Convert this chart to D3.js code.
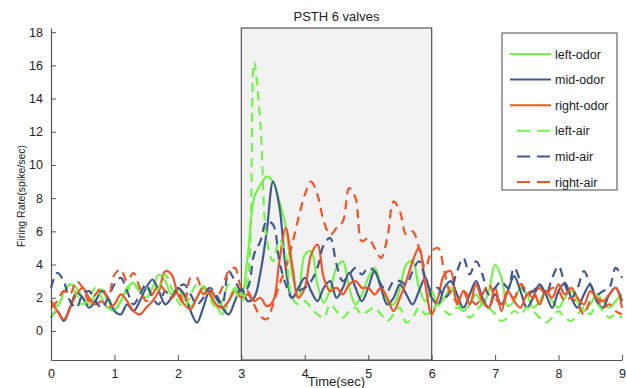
<!DOCTYPE html>
<html>
<head>
<meta charset="utf-8">
<script src="https://cdn.jsdelivr.net/npm/d3@7"></script>
<style>
  body { margin: 0; background: #fff; }
  svg { display: block; font-family: "Liberation Sans", Arial, sans-serif; }
</style>
</head>
<body>
<svg id="chart" width="626" height="388"></svg>
<script>
const title = "PSTH 6 valves";
const xLabel = "Time(sec)";
const yLabel = "Firing Rate(spike/sec)";
const xTicks = [0,1,2,3,4,5,6,7,8,9];
const yTicks = [0,2,4,6,8,10,12,14,16,18];
const stimWindow = [3, 6];
const times = d3.range(0, 91).map(i => i / 10);

const seriesNames = ["left-odor","mid-odor","right-odor","left-air","mid-air","right-air"];

const leftOdor = [1.8,1.5,2.3,2.8,2.6,2.0,1.6,2.2,2.5,1.8,1.3,1.8,2.6,2.9,2.4,2.0,2.6,3.4,3.0,2.2,2.5,2.0,1.5,2.0,2.7,2.3,1.6,1.0,1.8,2.6,2.2,
  4.5,8.0,8.8,9.3,9.0,7.8,6.3,3.5,2.0,4.6,4.8,2.8,1.7,2.5,3.8,4.2,2.6,1.6,2.2,3.2,3.8,2.8,1.8,1.6,2.6,4.0,4.2,2.6,1.8,2.4,
  1.6,2.0,2.6,1.8,1.2,1.6,2.2,1.6,2.4,4.0,3.2,1.5,1.8,2.6,2.2,1.4,1.8,2.4,1.8,1.4,2.0,2.4,1.8,1.2,1.6,2.2,1.8,1.4,1.8,2.2];

const midOdor = [0.8,1.2,0.6,1.4,2.3,2.0,1.4,1.8,2.4,2.0,1.2,1.0,1.6,1.2,1.8,2.6,3.1,2.4,1.6,2.0,2.6,2.2,1.2,0.5,1.4,2.4,2.0,1.4,1.0,1.8,2.6,
  1.8,2.0,3.5,6.0,9.0,7.5,3.8,2.0,2.6,3.2,2.4,1.8,2.6,3.0,2.0,2.6,3.5,2.6,1.8,2.6,3.6,2.6,1.6,2.0,2.8,2.2,1.6,2.4,3.2,2.0,
  1.6,2.6,3.0,2.2,1.4,2.2,3.0,2.0,1.4,2.2,1.6,2.4,3.3,2.4,1.4,2.0,2.8,2.2,1.4,2.4,2.9,2.0,1.4,2.2,2.8,1.8,1.4,2.2,2.6,1.8];

const rightOdor = [1.8,1.2,0.7,1.4,2.2,2.6,2.0,1.6,1.8,1.4,1.6,2.2,1.8,1.2,1.0,1.4,1.8,2.4,3.6,3.4,2.2,1.6,1.3,2.0,2.6,2.2,1.6,1.4,1.8,2.4,2.0,
  2.2,1.8,2.0,1.5,1.8,4.2,6.2,4.0,2.0,2.6,4.6,5.2,3.2,2.4,2.6,2.2,2.8,3.0,2.6,2.6,2.2,2.6,2.0,1.2,2.0,3.0,4.2,5.0,2.8,1.0,
  2.0,3.4,3.6,1.6,2.4,1.6,2.8,1.8,1.4,2.6,1.2,2.4,1.8,1.4,2.2,2.4,1.6,2.4,2.0,2.8,2.2,2.6,2.0,1.6,2.4,2.0,1.8,2.2,2.6,1.4];

const leftAir = [0.8,1.4,2.2,2.8,2.2,1.6,2.0,2.6,2.0,1.4,1.2,1.8,2.4,2.8,2.4,2.6,2.2,2.6,3.4,2.6,1.8,1.4,2.2,2.8,2.6,2.0,1.4,1.8,2.8,2.4,1.8,
  3.0,16.2,12.5,5.5,4.2,5.5,4.5,2.0,1.6,1.8,1.4,1.0,0.8,1.6,1.2,0.8,1.2,1.4,1.0,1.2,1.4,1.0,0.6,1.0,1.4,0.5,0.8,1.4,1.0,1.2,
  1.6,1.2,1.0,1.4,1.2,0.8,1.2,1.6,1.4,1.0,0.6,0.8,1.2,1.0,1.4,1.2,0.8,0.5,0.8,1.2,0.8,0.6,1.0,1.4,1.0,1.6,1.2,0.8,1.0,0.8];

const midAir = [2.6,3.5,3.0,1.8,1.4,2.2,2.4,1.8,1.4,2.0,2.8,3.2,2.4,1.6,2.2,2.8,2.0,1.6,2.4,2.0,2.6,2.8,2.2,1.6,2.0,2.6,2.2,1.6,3.6,3.0,2.4,
  2.6,4.6,5.4,6.6,6.4,4.2,2.8,2.0,2.4,2.6,3.0,3.8,5.2,5.6,4.0,3.0,3.4,3.8,3.4,3.8,3.6,2.8,2.4,3.0,3.0,2.8,3.6,4.2,3.2,2.4,
  2.6,2.0,2.4,3.6,4.4,3.4,4.2,3.4,2.2,2.6,3.0,2.6,3.8,3.0,2.2,2.4,2.8,2.2,3.2,3.9,2.8,2.0,2.6,3.6,2.8,2.2,2.4,2.6,3.8,3.2];

const rightAir = [1.4,1.8,2.4,2.2,3.0,2.6,1.8,2.2,2.6,2.0,3.4,3.7,3.0,3.5,2.6,1.8,2.2,2.8,2.4,2.0,2.4,1.6,3.2,3.2,2.2,2.6,2.0,2.6,3.6,3.8,2.6,
  2.4,1.6,0.9,0.7,1.6,2.8,3.8,5.2,6.8,8.2,9.0,8.2,6.6,5.8,6.2,6.6,8.6,8.0,5.4,5.6,5.0,4.4,5.6,7.8,7.2,5.8,6.0,5.0,3.8,4.8,
  5.0,3.6,2.2,1.8,2.4,2.0,1.6,2.2,2.8,2.0,1.6,2.4,2.0,2.8,2.4,2.0,2.6,2.2,2.6,2.4,1.8,2.0,1.6,1.0,1.8,2.0,1.4,1.6,1.2,1.0];

const seriesValues = [leftOdor, midOdor, rightOdor, leftAir, midAir, rightAir];
const seriesColors = ["#74f24c","#42588c","#ee5528","#74f24c","#42588c","#ee5528"];
const seriesDashed = [false,false,false,true,true,true];

const svg = d3.select("#chart");
const x = d3.scaleLinear().domain([0, 9]).range([51, 622]);
const y = d3.scaleLinear().domain([-1.75, 18.25]).range([360, 28]);

// stimulus window
svg.append("rect")
  .attr("x", x(stimWindow[0])).attr("y", y(18.25))
  .attr("width", x(stimWindow[1]) - x(stimWindow[0]))
  .attr("height", y(-1.75) - y(18.25))
  .attr("fill", "#f2f2f2").attr("stroke", "#555").attr("stroke-width", 1.2);

// lines
const line = d3.line().x(d => x(d[0])).y(d => y(d[1])).curve(d3.curveCatmullRom.alpha(0.5));
seriesValues.forEach((vals, k) => {
  svg.append("path")
    .datum(times.map((t, i) => [t, vals[i]]))
    .attr("d", line)
    .attr("fill", "none")
    .attr("stroke", seriesColors[k])
    .attr("stroke-width", 2.2)
    .attr("stroke-dasharray", seriesDashed[k] ? "9,6" : null)
    .attr("stroke-linejoin", "round");
});

// axes
const xAxis = d3.axisBottom(x).tickValues(xTicks).tickSizeInner(-5).tickSizeOuter(0).tickPadding(9);
const yAxis = d3.axisLeft(y).tickValues(yTicks).tickSizeInner(-5).tickSizeOuter(0).tickPadding(8);
const gx = svg.append("g").attr("transform", "translate(0,360)").call(xAxis);
const gy = svg.append("g").attr("transform", "translate(51,0)").call(yAxis);
[gx, gy].forEach(g => {
  g.select(".domain").attr("stroke", "#555").attr("stroke-width", 1.2);
  g.selectAll(".tick line").attr("stroke", "#555");
  g.selectAll(".tick text").attr("fill", "#222").style("font-size", "12.5px")
    .style("font-family", "'Liberation Sans', Arial, sans-serif");
});

// labels
svg.append("text").attr("x", 336.5).attr("y", 21).attr("text-anchor", "middle")
  .style("font-size", "13px").attr("fill", "#222").text(title);
svg.append("text").attr("x", 336.5).attr("y", 386).attr("text-anchor", "middle")
  .style("font-size", "13px").attr("fill", "#222").text(xLabel);
svg.append("text").attr("transform", "translate(25,196) rotate(-90)").attr("text-anchor", "middle")
  .style("font-size", "10.5px").attr("fill", "#222").text(yLabel);

// legend
const lg = svg.append("g");
lg.append("rect").attr("x", 502).attr("y", 33).attr("width", 115).attr("height", 157)
  .attr("fill", "#fff").attr("stroke", "#666").attr("stroke-width", 1.2);
seriesNames.forEach((name, k) => {
  const yy = 54 + k * 25.6;
  lg.append("line")
    .attr("x1", seriesDashed[k] ? 517 : 510).attr("x2", seriesDashed[k] ? 550 : 551)
    .attr("y1", yy).attr("y2", yy)
    .attr("stroke", seriesColors[k]).attr("stroke-width", 2)
    .attr("stroke-dasharray", seriesDashed[k] ? "13,7" : null);
  lg.append("text").attr("x", 555).attr("y", yy + 4.5).style("font-size", "12.5px")
    .attr("fill", "#222").text(name);
});
</script>
</body>
</html>
